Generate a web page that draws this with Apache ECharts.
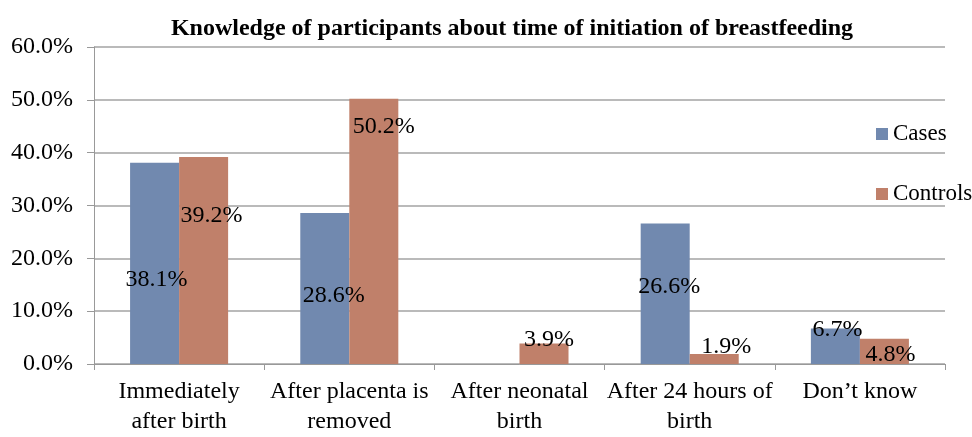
<!DOCTYPE html>
<html>
<head>
<meta charset="utf-8">
<script src="https://cdn.jsdelivr.net/npm/echarts@6/dist/echarts.min.js"></script>
<style>html,body{margin:0;padding:0;background:#fff}#c{width:972px;height:437px}</style>
</head>
<body>
<div id="c"></div>
<script>
const titleText = 'Knowledge of participants about time of initiation of breastfeeding';
const categories = ['Immediately\nafter birth', 'After placenta is\nremoved', 'After neonatal\nbirth', 'After 24 hours of\nbirth', 'Don\u2019t know'];
const casesValues = [38.1, 28.6, null, 26.6, 6.7];
const controlsValues = [39.2, 50.2, 3.9, 1.9, 4.8];
const yTicks = [0, 10, 20, 30, 40, 50, 60];

// label nudges (layout only), [dx, dy] relative to bar top centre
const casesLabelNudge = [[2, 117], [9, 83], [0, 0], [4, 63], [2, 1]];
const controlsLabelNudge = [[8, 59], [10, 28], [5, -4], [12, -7], [6, 16]];

const FONT = '"Liberation Serif", "Times New Roman", serif';

function mkData(vals, nudges) {
  return vals.map((v, i) => ({
    value: v,
    label: { offset: nudges[i] }
  }));
}

const labelBase = {
  show: true,
  position: ['50%', 0],
  align: 'center',
  verticalAlign: 'middle',
  color: '#000',
  fontFamily: FONT,
  fontSize: 24,
  formatter: p => (p.value == null ? '' : p.value.toFixed(1) + '%')
};

const chart = echarts.init(document.getElementById('c'));
chart.setOption({
  animation: false,
  backgroundColor: '#fff',
  title: {
    text: titleText,
    left: 507, textAlign: 'center', top: 12,
    textStyle: { fontFamily: FONT, fontWeight: 'bold', fontSize: 24, color: '#000' }
  },
  legend: {
    orient: 'vertical',
    left: 871, top: 116,
    itemWidth: 12, itemHeight: 12, itemGap: 34,
    icon: 'rect',
    textStyle: { fontFamily: FONT, fontSize: 23, color: '#000', lineHeight: 26 },
    data: ['Cases', 'Controls']
  },
  grid: { left: 94, right: 27, top: 47, bottom: 65, containLabel: false },
  xAxis: {
    type: 'category',
    data: categories,
    axisLine: { lineStyle: { color: '#999', width: 1 } },
    axisTick: { show: true, length: 6, lineStyle: { color: '#999' } },
    axisLabel: { interval: 0, margin: 13, color: '#000', fontFamily: FONT, fontSize: 24, lineHeight: 30 }
  },
  yAxis: {
    type: 'value',
    min: yTicks[0], max: yTicks[yTicks.length - 1], interval: yTicks[1] - yTicks[0],
    axisLine: { show: true, lineStyle: { color: '#999', width: 1 } },
    axisTick: { show: true, length: 7, lineStyle: { color: '#999' } },
    splitLine: { show: true, lineStyle: { color: '#a3a3a3', width: 1.5 } },
    axisLabel: { margin: 21, color: '#000', fontFamily: FONT, fontSize: 24, formatter: v => v.toFixed(1) + '%' }
  },
  series: [
    {
      name: 'Cases', type: 'bar',
      data: mkData(casesValues, casesLabelNudge),
      itemStyle: { color: '#7189AF' },
      barGap: '0%', barCategoryGap: '42.4%',
      label: labelBase
    },
    {
      name: 'Controls', type: 'bar',
      data: mkData(controlsValues, controlsLabelNudge),
      itemStyle: { color: '#C0806A' },
      barGap: '0%', barCategoryGap: '42.4%',
      label: labelBase
    }
  ]
});
</script>
</body>
</html>
